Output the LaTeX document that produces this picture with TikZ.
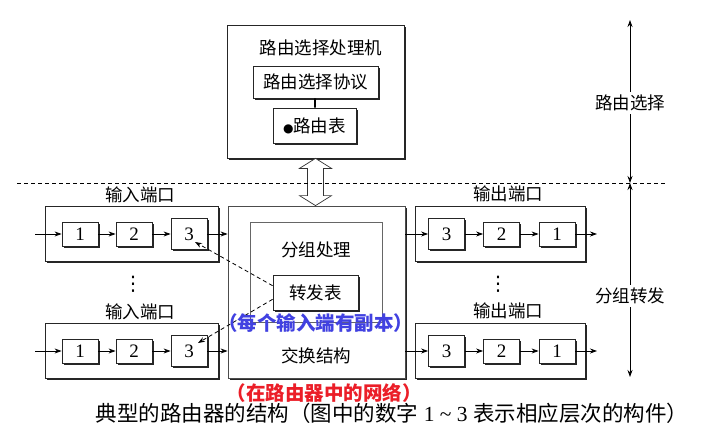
\documentclass[tikz,border=0pt]{standalone}
\usepackage{fontspec}
\setmainfont{Liberation Serif}
\newfontfamily\cjk{Noto Sans CJK SC}
\newfontfamily\symfont{DejaVu Sans}
\usetikzlibrary{arrows.meta,shadows,calc}

\definecolor{notered}{RGB}{235,30,40}
\definecolor{noteblue}{RGB}{65,65,225}

\tikzset{%
  every box/.style={
    draw=black!85,
    fill=white,
    line width=0.8pt,
    inner sep=0pt,
    drop shadow={shadow xshift=1.6pt, shadow yshift=-1.6pt, fill=black!85, opacity=1}
  },
  stage/.style={
    every box,
    minimum width=36pt,
    minimum height=24pt,
    font=\fontsize{19}{19}\selectfont
  },
  stage 3/.style={minimum height=31pt},
  cjk text/.style={font=\cjk\fontsize{17.5}{18}\selectfont, inner sep=1pt},
  note text/.style={font=\cjk\bfseries\fontsize{19.5}{20}\selectfont, inner sep=0pt},
  dots/.style={font=\symfont\fontsize{20}{20}\selectfont, inner sep=0pt},
}

\begin{document}
\begin{tikzpicture}[x=1pt, y=-1pt, >={Stealth[length=7pt,width=5pt]}, line width=0.8pt]
\useasboundingbox (0,0) rectangle (704,447);

% routing processor
\node [every box, minimum width=177pt, minimum height=133pt] (proc) at (315.5,91.5) {};
\node [cjk text] (proc-title) at (321,48) {路由选择处理机};
\node [every box, cjk text, minimum width=125pt, minimum height=32pt] (proto) at (315.5,82) {路由选择协议};
\node [every box, cjk text, minimum width=83pt, minimum height=35pt] (rtable) at (314.5,125.5)
  {{\symfont\fontsize{12}{12}\selectfont ●}路由表};
\draw [line width=1.8pt] (proto) -- (rtable);

% switch fabric
\node [every box, draw=black!70, minimum width=177pt, minimum height=172pt] (fabric) at (316.5,292) {};
\node [draw=black!60, line width=0.6pt, minimum width=132pt, minimum height=100pt] (pproc) at (316,272) {};
\node [cjk text] (pproc-title) at (316,250) {分组处理};
\node [every box, cjk text, minimum width=85pt, minimum height=35pt] (fwd) at (315.5,292.5) {转发表};
\node [cjk text] (fabric-title) at (316,356) {交换结构};

% link between the two planes
\coordinate (link-top) at (proc.south);
\coordinate (link-bot) at (proc.south |- fabric.north);
\draw [draw=black!80, fill=white, line width=0.7pt]
  (link-top) -- ++(16,10) -- ++(-8,0) -- ($(link-bot)+(8,-10)$) -- ++(8,0) -- (link-bot)
  -- ++(-16,-10) -- ++(8,0) -- ($(link-top)+(-8,10)$) -- ++(-8,0) -- cycle;

\coordinate (div-l) at (17,183);
\coordinate (div-r) at (665,183);
\draw [line width=0.7pt, dash pattern=on 4pt off 3pt] (div-l) -- (div-r);

% input ports
\foreach \r/\y in {top/234, bot/351} {
  \node [every box, minimum width=173pt, minimum height=55pt] (inport-\r) at (131.5,\y) {};
  \node [cjk text] (inport-\r-title) at (140,\y-39) {输入端口};
  \foreach \m/\x [count=\i] in {1/80, 2/134, 3/189}
    \node [stage, stage \m/.try] (in-\r-\i) at (\x,\y) {\m};
  \draw [<-] (in-\r-1) -- ++(-45,0);
  \draw [->] (in-\r-1) -- (in-\r-2);
  \draw [->] (in-\r-2) -- (in-\r-3);
  \draw [->] (in-\r-3) -- (in-\r-3 -| fabric.west);
}

% output ports
\foreach \r/\y in {top/234, bot/351} {
  \node [every box, minimum width=170pt, minimum height=55pt] (outport-\r) at (500,\y) {};
  \node [cjk text] (outport-\r-title) at (508,\y-40) {输出端口};
  \foreach \m/\x in {3/446.5, 2/501.5, 1/557}
    \node [stage, stage \m/.try] (out-\r-\m) at (\x,\y) {\m};
  \draw [->] (out-\r-3 -| fabric.east) -- (out-\r-3);
  \draw [->] (out-\r-3) -- (out-\r-2);
  \draw [->] (out-\r-2) -- (out-\r-1);
  \draw [->] (out-\r-1) -- ++(40,0);
}

\node [dots] (in-dots) at (133,284) {⋮};
\node [dots] (out-dots) at (498,284) {⋮};

% copies of the forwarding table
\draw [->, dash pattern=on 4pt off 3pt] (fwd.171) -- ($(in-top-3)+(6,8)$);
\draw [->, dash pattern=on 4pt off 3pt] (fwd.189) -- ($(in-bot-3)+(9,-8)$);

% layers on the right
\coordinate (ax-top) at (630,20);
\coordinate (ax-mid) at (630,183);
\coordinate (ax-bot) at (630,377);
\draw [<->] (ax-top) -- (ax-mid);
\draw [<->] (ax-mid) -- (ax-bot);
\node [cjk text, fill=white, inner sep=3pt] (ax-route) at (630,103) {路由选择};
\node [cjk text, fill=white, inner sep=3pt] (ax-fwd) at (630,296) {分组转发};

% notes and caption
\node [note text, text=noteblue] (note-copy) at (315.5,323) {（每个输入端有副本）};
\node [note text, text=notered] (note-net) at (324,393) {（在路由器中的网络）};
\node [font=\fontsize{21.5}{22}\selectfont, inner sep=0pt] (caption) at (392,413)
  {{\cjk 典型的路由器的结构（图中的数字} 1 \textasciitilde{} 3 {\cjk 表示相应层次的构件）}};

\end{tikzpicture}
\end{document}
